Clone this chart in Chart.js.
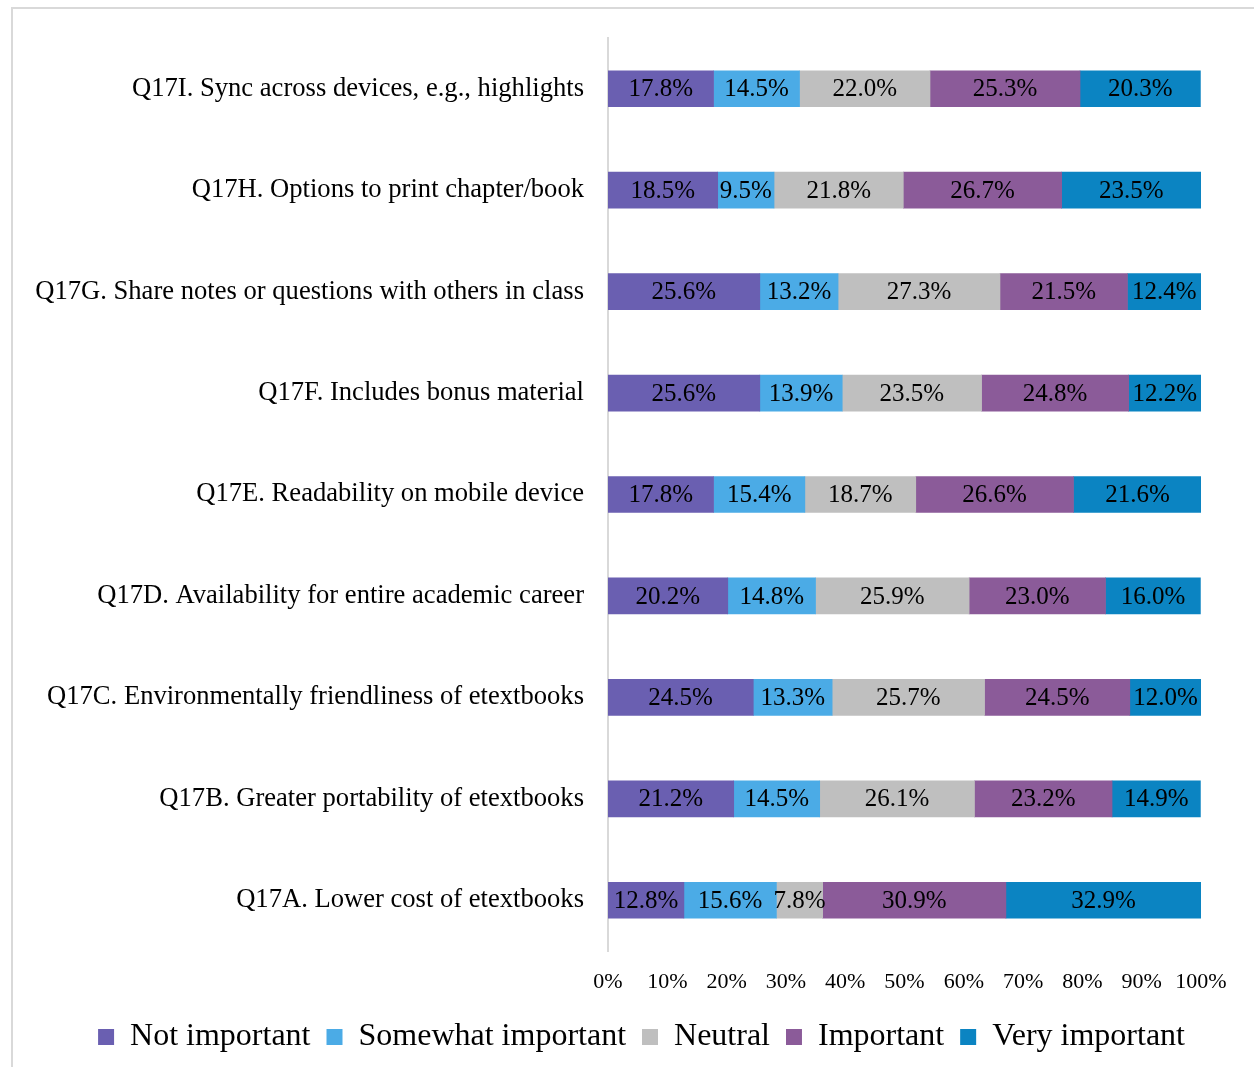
<!DOCTYPE html>
<html lang="en">
<head>
    <meta charset="UTF-8">
    <title>Q17 importance</title>
    <script src="https://cdn.jsdelivr.net/npm/chart.js"></script>
    <style>
        body { margin: 0; background: #fff; overflow: hidden; }
        .wrap { position: relative; width: 1254px; height: 1067px; }
        .frame { position: absolute; left: 11px; top: 7px; width: 1300px; height: 1100px; border: 2px solid #d9d9d9; pointer-events: none; }
    </style>
</head>
<body>
    <div class="wrap">
        <canvas id="myChart"></canvas>
        <div class="frame"></div>
    </div>

    <script>
        var categories = [
            'Q17I. Sync across devices, e.g., highlights',
            'Q17H. Options to print chapter/book',
            'Q17G. Share notes or questions with others in class',
            'Q17F. Includes bonus material',
            'Q17E. Readability on mobile device',
            'Q17D. Availability for entire academic career',
            'Q17C. Environmentally friendliness of etextbooks',
            'Q17B. Greater portability of etextbooks',
            'Q17A. Lower cost of etextbooks'
        ];
        var notImportant = [17.8, 18.5, 25.6, 25.6, 17.8, 20.2, 24.5, 21.2, 12.8];
        var somewhatImportant = [14.5, 9.5, 13.2, 13.9, 15.4, 14.8, 13.3, 14.5, 15.6];
        var neutral = [22.0, 21.8, 27.3, 23.5, 18.7, 25.9, 25.7, 26.1, 7.8];
        var important = [25.3, 26.7, 21.5, 24.8, 26.6, 23.0, 24.5, 23.2, 30.9];
        var veryImportant = [20.3, 23.5, 12.4, 12.2, 21.6, 16.0, 12.0, 14.9, 32.9];
        var xTicks = [0, 10, 20, 30, 40, 50, 60, 70, 80, 90, 100];

        var serif = "'Liberation Serif', 'Times New Roman', serif";

        // labels inside every segment
        var barLabels = {
            id: 'barLabels',
            afterDatasetsDraw: function (chart) {
                var ctx = chart.ctx;
                ctx.save();
                ctx.font = '25px ' + serif;
                ctx.fillStyle = '#000';
                ctx.textAlign = 'center';
                ctx.textBaseline = 'middle';
                chart.data.datasets.forEach(function (ds, i) {
                    chart.getDatasetMeta(i).data.forEach(function (bar, j) {
                        var cx = (bar.x + bar.base) / 2;
                        ctx.fillText(ds.data[j].toFixed(1) + '%', cx, bar.y + 1);
                    });
                });
                ctx.restore();
            }
        };

        function mk(label, values, color) {
            return {
                label: label,
                data: values,
                backgroundColor: color,
                borderWidth: 0,
                barThickness: 36
            };
        }

        const config = {
            type: 'bar',
            data: {
                labels: categories,
                datasets: [
                    mk('Not important', notImportant, '#6A5FB1'),
                    mk('Somewhat important', somewhatImportant, '#4BABE6'),
                    mk('Neutral', neutral, '#BFBFBF'),
                    mk('Important', important, '#8B5B99'),
                    mk('Very important', veryImportant, '#0B84C2')
                ]
            },
            options: {
                indexAxis: 'y',
                responsive: true,
                maintainAspectRatio: false,
                animation: false,
                layout: { padding: { top: 38, right: 53, bottom: 4, left: 0 } },
                scales: {
                    x: {
                        stacked: true,
                        min: 0,
                        max: 100,
                        afterBuildTicks: function (scale) {
                            scale.ticks = xTicks.map(function (v) { return { value: v }; });
                        },
                        grid: { display: false },
                        border: { display: false },
                        ticks: {
                            padding: 10,
                            color: '#000',
                            font: { family: serif, size: 22 },
                            callback: function (v) { return v + '%'; }
                        },
                        afterFit: function (scale) { scale.height = 54; }
                    },
                    y: {
                        stacked: true,
                        grid: { display: false },
                        border: { display: true, color: '#d9d9d9', width: 2 },
                        ticks: {
                            padding: 16,
                            color: '#000',
                            font: { family: serif, size: 26.6 }
                        },
                        afterFit: function (scale) { scale.width = 608; }
                    }
                },
                plugins: {
                    tooltip: { enabled: false },
                    legend: {
                        position: 'bottom',
                        align: 'end',
                        labels: {
                            boxWidth: 16,
                            boxHeight: 16,
                            padding: 16,
                            color: '#000',
                            font: { family: serif, size: 32 }
                        }
                    }
                }
            },
            plugins: [barLabels]
        };

        myChart = new Chart(document.getElementById('myChart'), config);
    </script>
</body>
</html>
